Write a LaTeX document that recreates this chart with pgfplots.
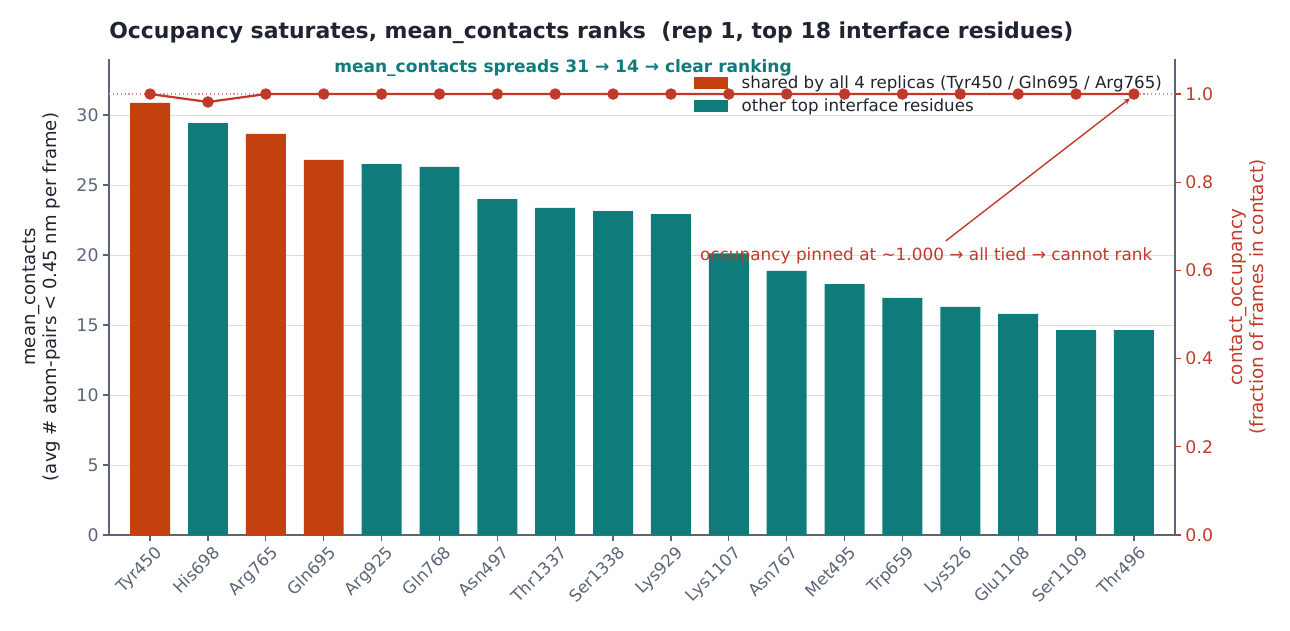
\documentclass[border=0pt]{standalone}
\usepackage{pgfplots}
\pgfplotsset{compat=1.18}
\usepackage{fontspec}
\setmainfont{DejaVu Sans}

\definecolor{shared}{HTML}{C2410C}
\definecolor{other}{HTML}{0F7C7B}
\definecolor{occ}{HTML}{C0392B}
\definecolor{tickc}{HTML}{5B6578}
\definecolor{ink}{HTML}{1E2430}
\definecolor{gridc}{HTML}{DDDDDD}

\pgfplotsset{
  base/.style={
    at={(78.5pt,68.4pt)}, anchor=south west,
    scale only axis, width=767.5pt, height=342.7pt,
    xmin=-0.71, xmax=17.71,
    tick align=outside,
    major tick length=4pt,
    /pgf/number format/assume math mode=true,
  },
}

\begin{document}
\begin{tikzpicture}
\path[use as bounding box] (0pt,0pt) rectangle (928.8pt,453.6pt);

% bars: mean_contacts
\begin{axis}[base,
  ymin=0, ymax=34,
  axis x line*=bottom, axis y line*=left,
  axis line style={tickc, line width=0.9pt},
  ytick={0,5,...,30},
  ymajorgrids, grid style={gridc, line width=0.7pt},
  xtick={0,...,17},
  xticklabels={Tyr450,His698,Arg765,Gln695,Arg925,Gln768,Asn497,Thr1337,Ser1338,Lys929,Lys1107,Asn767,Met495,Trp659,Lys526,Glu1108,Ser1109,Thr496},
  xticklabel style={rotate=45, anchor=north east, font=\fontsize{12}{14}\selectfont, text=tickc, inner sep=1pt, xshift=1pt, yshift=-3pt},
  yticklabel style={font=\fontsize{12.5}{14}\selectfont, text=tickc},
  major tick style={tickc, line width=0.9pt},
  ylabel={mean\_contacts\\(avg \# atom-pairs < 0.45 nm per frame)},
  ylabel style={align=center, font=\fontsize{13}{15}\selectfont, text=ink, yshift=5pt},
  ybar, bar width=0.69, bar shift=0pt,
  legend style={draw=none, fill=none, at={(0.545,0.977)}, anchor=north west,
    font=\fontsize{12}{14}\selectfont, text=ink, row sep=2pt,
    /tikz/every odd column/.append style={column sep=8pt}},
  legend image code/.code={\fill[#1] (0pt,-4.3pt) rectangle (24pt,4.3pt);},
  legend cell align=left,
]
\addplot[fill=shared, draw=none] coordinates {
  (0,30.86) (2,28.65) (3,26.79)
};
\addlegendentry{shared by all 4 replicas (Tyr450 / Gln695 / Arg765)}
\addplot[fill=other, draw=none] coordinates {
  (1,29.43) (4,26.50) (5,26.29) (6,24.00) (7,23.36) (8,23.14) (9,22.93)
  (10,20.12) (11,18.86) (12,17.93) (13,16.93) (14,16.29) (15,15.79)
  (16,14.64) (17,14.64)
};
\addlegendentry{other top interface residues}

\node[font=\bfseries\fontsize{12.25}{14}\selectfont, text=other] at (axis cs:7.135,33.36) {mean\_contacts spreads 31 → 14 → clear ranking};
\node[font=\fontsize{12.15}{14}\selectfont, text=occ] at (axis cs:13.41,19.93) {occupancy pinned at \textasciitilde1.000 → all tied → cannot rank};
\end{axis}

% line: contact_occupancy
\begin{axis}[base,
  ymin=0, ymax=1.0794,
  axis x line=none, axis y line*=right,
  axis line style={tickc, line width=0.9pt},
  ytick={0,0.2,...,1.0},
  yticklabel style={font=\fontsize{12.5}{14}\selectfont, text=occ, /pgf/number format/.cd, fixed, fixed zerofill, precision=1},
  major tick style={occ, line width=0.9pt},
  ylabel={contact\_occupancy\\(fraction of frames in contact)},
  ylabel style={align=center, font=\fontsize{13.2}{15}\selectfont, text=occ, yshift=-5pt},
]
\addplot[occ!55, dotted, line width=0.8pt, forget plot] coordinates {(-0.71,1) (17.71,1)};
\addplot[occ, line width=1.6pt, mark=*, mark size=3.3pt] coordinates {
  (0,1.0) (1,0.982) (2,1.0) (3,1.0) (4,1.0) (5,1.0) (6,1.0) (7,1.0) (8,1.0)
  (9,1.0) (10,1.0) (11,1.0) (12,1.0) (13,1.0) (14,1.0) (15,1.0) (16,1.0) (17,1.0)
};
\draw[occ, line width=1pt, -stealth] (axis cs:13.75,0.667) -- (axis cs:16.93,0.990);
\end{axis}

\node[anchor=base west, inner sep=0pt, font=\bfseries\fontsize{15.8}{18}\selectfont, text=ink] at (78.5pt,426pt)
  {Occupancy saturates, mean\_contacts ranks \ (rep 1, top 18 interface residues)};
\end{tikzpicture}
\end{document}
